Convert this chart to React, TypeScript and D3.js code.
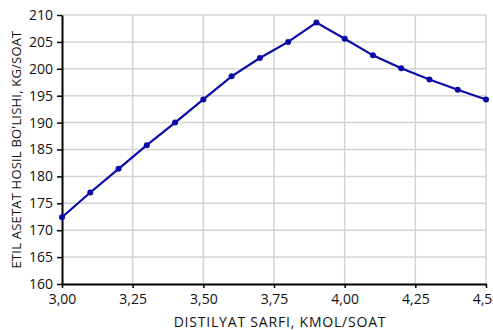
import React, { useEffect, useRef } from 'react';
import * as d3 from 'd3';

const xValues = [3.0, 3.1, 3.2, 3.3, 3.4, 3.5, 3.6, 3.7, 3.8, 3.9, 4.0, 4.1, 4.2, 4.3, 4.4, 4.5];
const yValues = [172.4, 177.0, 181.4, 185.8, 190.0, 194.3, 198.6, 202.0, 205.0, 208.6, 205.6, 202.5, 200.1, 198.0, 196.1, 194.3];
const xTicks = [3.0, 3.25, 3.5, 3.75, 4.0, 4.25, 4.5];
const yTicks = [160, 165, 170, 175, 180, 185, 190, 195, 200, 205, 210];
const xTitle = 'DISTILYAT SARFI, KMOL/SOAT';
const yTitle = "ETIL ASETAT HOSIL BO'LISHI, KG/SOAT";

const W = 493;
const H = 330;
const margin = { top: 15, right: 7, bottom: 46, left: 62 };

const App = () => {
  const svgRef = useRef<SVGSVGElement>(null);

  useEffect(() => {
    const svg = d3.select(svgRef.current);
    svg.selectAll('*').remove();

    const x = d3.scaleLinear().domain([3, 4.5]).range([margin.left, W - margin.right]);
    const y = d3.scaleLinear().domain([160, 210]).range([H - margin.bottom, margin.top]);
    const font = '"Open Sans", "DejaVu Sans", sans-serif';

    // grid
    svg.append('g')
      .selectAll('line')
      .data(yTicks.slice(1))
      .enter()
      .append('line')
      .attr('x1', x(3)).attr('x2', x(4.5))
      .attr('y1', (d) => y(d)).attr('y2', (d) => y(d))
      .attr('stroke', '#d4d4d4').attr('stroke-width', 1.5);

    svg.append('g')
      .selectAll('line')
      .data(xTicks.slice(1))
      .enter()
      .append('line')
      .attr('x1', (d) => x(d)).attr('x2', (d) => x(d))
      .attr('y1', y(160)).attr('y2', y(210))
      .attr('stroke', '#d4d4d4').attr('stroke-width', 1.5);

    // axes
    const yAxis = svg.append('g')
      .attr('transform', `translate(${x(3)},0)`)
      .call(d3.axisLeft(y).tickValues(yTicks).tickSize(5).tickSizeOuter(0).tickPadding(4));
    const xAxis = svg.append('g')
      .attr('transform', `translate(0,${y(160)})`)
      .call(d3.axisBottom(x).tickValues(xTicks).tickSize(4).tickSizeOuter(0).tickPadding(6)
        .tickFormat((d) => (d as number).toFixed(2).replace('.', ',')));

    [yAxis, xAxis].forEach((g) => {
      g.select('.domain').attr('stroke', '#000').attr('stroke-width', 2);
      g.selectAll('.tick line').attr('stroke', '#000').attr('stroke-width', 1.5);
      g.selectAll('.tick text')
        .attr('fill', '#111')
        .style('font-family', font)
        .style('font-size', '14px');
    });

    // line
    const pts = xValues.map((v, i) => [v, yValues[i]] as [number, number]);
    svg.append('path')
      .datum(pts)
      .attr('fill', 'none')
      .attr('stroke', '#0a0aa8')
      .attr('stroke-width', 2.2)
      .attr('d', d3.line<[number, number]>().x((d) => x(d[0])).y((d) => y(d[1])));

    svg.append('g')
      .selectAll('circle')
      .data(pts)
      .enter()
      .append('circle')
      .attr('cx', (d) => x(d[0]))
      .attr('cy', (d) => y(d[1]))
      .attr('r', 3)
      .attr('fill', '#0a0aa8');

    // titles
    svg.append('text')
      .attr('x', 280)
      .attr('y', 327)
      .attr('text-anchor', 'middle')
      .style('font-family', font)
      .style('font-size', '14px')
      .style('letter-spacing', '0.8px')
      .attr('fill', '#111')
      .text(xTitle);

    svg.append('text')
      .attr('transform', `translate(21,${y(185)}) rotate(-90)`)
      .attr('text-anchor', 'middle')
      .style('font-family', font)
      .style('font-size', '13px')
      .style('letter-spacing', '0.2px')
      .attr('fill', '#111')
      .text(yTitle);
  }, []);

  return (
    <div style={{ position: 'absolute', left: 0, top: 0, width: W, height: H, background: '#fff' }}>
      <svg ref={svgRef} width={W} height={H} style={{ display: 'block' }} />
    </div>
  );
};

export default App;
